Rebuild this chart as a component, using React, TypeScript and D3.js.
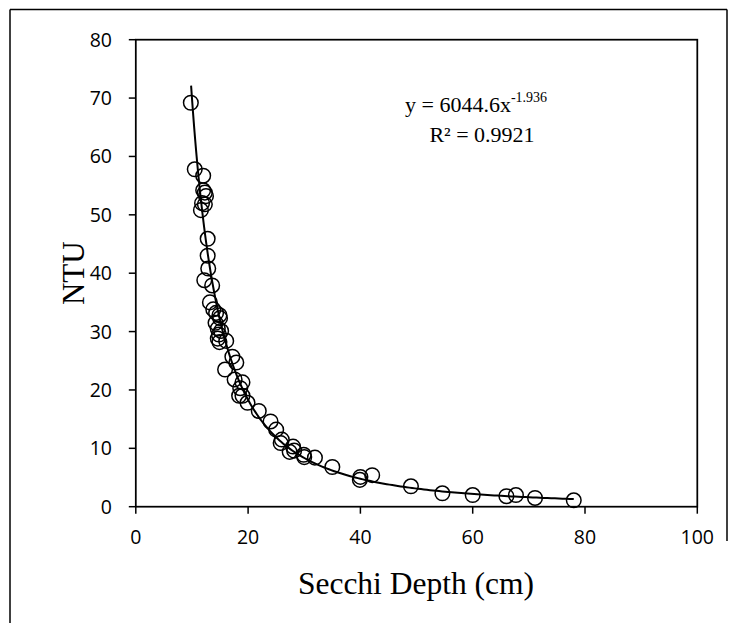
import React from "react";
import * as d3 from "d3";

const secchi: number[] = [
  9.8, 10.5, 12.0, 12.0, 12.3, 12.5, 11.8, 12.3, 11.6, 12.8, 12.8, 12.9, 12.2, 13.6, 13.2,
  13.8, 14.3, 14.9, 15.0, 14.2, 14.6, 15.2, 14.8, 14.6, 14.9, 16.1, 17.2, 17.9, 15.9, 17.6,
  19.0, 18.6, 18.4, 19.0, 19.9, 21.9, 24.0, 25.0, 26.0, 25.8, 28.0, 27.4, 28.2, 29.9, 30.0,
  31.9, 35.0, 40.0, 39.9, 42.1, 49.0, 54.6, 60.0, 66.0, 67.7, 71.1, 78.0,
];
const ntu: number[] = [
  69.2, 57.8, 56.7, 54.2, 53.8, 53.2, 52.0, 51.8, 50.8, 45.9, 43.0, 40.8, 38.8, 37.9, 35.0,
  33.8, 33.2, 32.8, 32.3, 31.5, 30.5, 30.1, 29.5, 28.8, 28.2, 28.4, 25.7, 24.7, 23.5, 21.8,
  21.3, 20.3, 19.0, 19.0, 17.8, 16.4, 14.6, 13.2, 11.5, 10.9, 10.3, 9.4, 9.6, 8.9, 8.5,
  8.4, 6.8, 5.1, 4.6, 5.4, 3.5, 2.3, 2.0, 1.8, 2.0, 1.5, 1.1,
];
const xTicks: number[] = [0, 20, 40, 60, 80, 100];
const yTicks: number[] = [0, 10, 20, 30, 40, 50, 60, 70, 80];
const fitA = 6044.6;
const fitB = -1.936;
const fitRange: [number, number] = [9.85, 78];

export default function App() {
  const W = 738, H = 623;
  const left = 135.8, right = 697.3, top = 39.7, bottom = 506.7;
  const x = d3.scaleLinear().domain([0, 100]).range([left, right]);
  const y = d3.scaleLinear().domain([0, 80]).range([bottom, top]);

  const fitXs = d3.range(0, 201).map((i) => fitRange[0] + (fitRange[1] - fitRange[0]) * Math.pow(i / 200, 2));
  const line = d3.line<number>().x((d) => x(d)).y((d) => y(fitA * Math.pow(d, fitB)));

  const tickFont = "'Open Sans', 'Liberation Sans', sans-serif";
  const serif = "'Liberation Serif', 'Times New Roman', serif";

  return (
    <svg width={W} height={H} style={{ position: "absolute", left: 0, top: 0, background: "#fff" }}>
      <rect x={0} y={0} width={W} height={H} fill="#fff" />
      {/* outer frame */}
      <line x1={10} y1={9.5} x2={727} y2={9.5} stroke="#000" strokeWidth={1.5} />
      <line x1={10} y1={9.5} x2={10} y2={H} stroke="#000" strokeWidth={1.5} />
      <line x1={727} y1={9.5} x2={727} y2={541} stroke="#000" strokeWidth={1.5} />

      {/* plot box */}
      <rect x={left} y={top} width={right - left} height={bottom - top} fill="none" stroke="#000" strokeWidth={1.75} />

      {/* y ticks */}
      {yTicks.map((t) => (
        <g key={"y" + t}>
          <line x1={left - 7} x2={left} y1={y(t)} y2={y(t)} stroke="#000" strokeWidth={1.5} />
          <text x={112} y={y(t)} dy="0.36em" textAnchor="end" fontFamily={tickFont} fontSize={19.5} fill="#000">
            {t}
          </text>
        </g>
      ))}
      {/* x ticks */}
      {xTicks.map((t) => (
        <g key={"x" + t}>
          <line x1={x(t)} x2={x(t)} y1={bottom} y2={bottom + 7} stroke="#000" strokeWidth={1.5} />
          <text x={x(t)} y={544} textAnchor="middle" fontFamily={tickFont} fontSize={19.5} fill="#000">
            {t}
          </text>
        </g>
      ))}

      {/* trendline */}
      <path d={line(fitXs) || ""} fill="none" stroke="#000" strokeWidth={2} />

      {/* points */}
      {secchi.map((s, i) => (
        <circle key={i} cx={x(s)} cy={y(ntu[i])} r={7.3} fill="none" stroke="#000" strokeWidth={1.5} />
      ))}

      {/* equation */}
      <text x={405} y={112} fontFamily={serif} fontSize={22} fill="#000">
        y = 6044.6x
        <tspan dy={-10} fontSize={14}>-1.936</tspan>
      </text>
      <text x={482} y={142} textAnchor="middle" fontFamily={serif} fontSize={22} fill="#000">
        R² = 0.9921
      </text>

      {/* axis titles */}
      <text x={416} y={594} textAnchor="middle" fontFamily={serif} fontSize={31.5} fill="#000">
        Secchi Depth (cm)
      </text>
      <text
        transform={`translate(73, ${(top + bottom) / 2}) rotate(-90)`}
        textAnchor="middle"
        y={11}
        fontFamily={serif}
        fontSize={31}
        fill="#000"
      >
        NTU
      </text>
    </svg>
  );
}
